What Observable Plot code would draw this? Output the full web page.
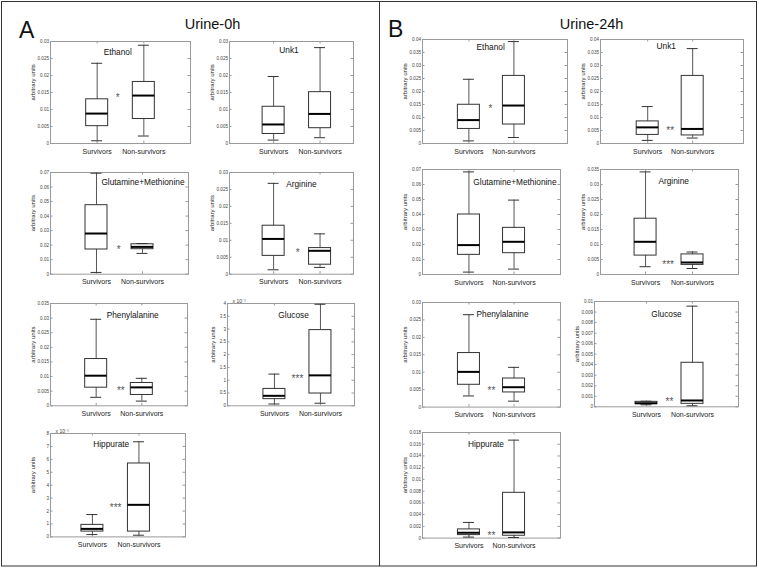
<!DOCTYPE html>
<html><head><meta charset="utf-8">
<script src="https://cdn.jsdelivr.net/npm/d3@7"></script>
<script src="https://cdn.jsdelivr.net/npm/@observablehq/plot@0.6"></script>
<style>
html,body{margin:0;padding:0;background:#fff;}
#fig{position:relative;width:759px;height:568px;overflow:hidden;background:#fff;font-family:"Liberation Sans",Arial,Helvetica,sans-serif;}
#fig svg.panel{position:absolute;}
</style></head><body>
<div id="fig">
<svg id="deco" width="759" height="568" style="position:absolute;left:0;top:0" font-family="Liberation Sans, Arial, sans-serif">
<rect x="1.5" y="1.5" width="755" height="564.5" fill="none" stroke="#333" stroke-width="1"/>
<line x1="379.5" y1="1.5" x2="379.5" y2="566" stroke="#333" stroke-width="1"/>
<text x="19" y="37.5" font-size="23" fill="#111">A</text>
<text x="388" y="36.5" font-size="23" fill="#111">B</text>
<text x="212.5" y="28.5" font-size="14.5" text-anchor="middle" fill="#111">Urine-0h</text>
<text x="591.5" y="28.5" font-size="14.5" text-anchor="middle" fill="#111">Urine-24h</text>
</svg>
</div>
<script>
// categories
const groups = ["Survivors", "Non-survivors"];
const yLabel = "arbitrary units";
const expLabel = "x 10\u207B\u00B3";

// tick values
const ticks030 = [0, 0.005, 0.01, 0.015, 0.02, 0.025, 0.03];
const ticks035 = [0, 0.005, 0.01, 0.015, 0.02, 0.025, 0.03, 0.035];
const ticks040 = [0, 0.005, 0.01, 0.015, 0.02, 0.025, 0.03, 0.035, 0.04];
const ticks070 = [0, 0.01, 0.02, 0.03, 0.04, 0.05, 0.06, 0.07];
const ticksGlc0h = [0, 0.5, 1, 1.5, 2, 2.5, 3, 3.5, 4];
const ticksHip0h = [0, 1, 2, 3, 4, 5, 6, 7, 8];
const ticksGlc24h = [0, 0.001, 0.002, 0.003, 0.004, 0.005, 0.006, 0.007, 0.008, 0.009, 0.01];
const ticksHip24h = [0, 0.002, 0.004, 0.006, 0.008, 0.01, 0.012, 0.014, 0.016, 0.018];

// box stats per group: [lower whisker, Q1, median, Q3, upper whisker]
// Urine-0h
const ethanol0h = [[0.0008, 0.0051, 0.0088, 0.0130, 0.0236], [0.0022, 0.0072, 0.0141, 0.0181, 0.0289]];
const unk1_0h   = [[0.0010, 0.0028, 0.0056, 0.0108, 0.0197], [0.0017, 0.0045, 0.0087, 0.0151, 0.0282]];
const glut0h    = [[0.0012, 0.0170, 0.0280, 0.0475, 0.0695], [0.0143, 0.0172, 0.0188, 0.0206, 0.0211]];
const arg0h     = [[0.0013, 0.0054, 0.0104, 0.0143, 0.0268], [0.0020, 0.0028, 0.0069, 0.0077, 0.0119]];
const phe0h     = [[0.0029, 0.0062, 0.0103, 0.0160, 0.0296], [0.0016, 0.0037, 0.0063, 0.0078, 0.0094]];
const glc0h     = [[0.07, 0.26, 0.39, 0.66, 1.24], [0.10, 0.48, 1.19, 2.96, 3.97]];   // x 10^-3
const hip0h     = [[0.18, 0.41, 0.62, 0.93, 1.73], [0.13, 0.41, 2.48, 5.68, 7.36]];   // x 10^-3
// Urine-24h
const ethanol24h = [[0.0010, 0.0056, 0.0090, 0.0149, 0.0247], [0.0023, 0.0073, 0.0146, 0.0260, 0.0392]];
const unk1_24h   = [[0.0012, 0.0033, 0.0062, 0.0085, 0.0142], [0.0021, 0.0031, 0.0056, 0.0260, 0.0365]];
const glut24h    = [[0.0016, 0.0131, 0.0196, 0.0400, 0.0684], [0.0036, 0.0142, 0.0218, 0.0311, 0.0496]];
const arg24h     = [[0.0026, 0.0063, 0.0109, 0.0186, 0.0342], [0.0020, 0.0032, 0.0040, 0.0067, 0.0075]];
const phe24h     = [[0.0032, 0.0064, 0.0101, 0.0155, 0.0265], [0.0017, 0.0042, 0.0057, 0.0082, 0.0114]];
const glc24h     = [[0.00019, 0.00025, 0.00034, 0.00047, 0.00053], [0.0001, 0.00028, 0.0006, 0.00418, 0.00956]];
const hip24h     = [[0.00017, 0.00051, 0.00091, 0.00148, 0.00267], [0.0001, 0.0004, 0.00097, 0.00772, 0.0167]];

// significance marks: [text, y value]
const sigEthanol0h = ["*", 0.0141];
const sigGlut0h = ["*", 0.0188];
const sigArg0h = ["*", 0.0070];
const sigPhe0h = ["**", 0.0060];
const sigGlc0h = ["***", 1.17];
const sigHip0h = ["***", 2.48];
const sigEthanol24h = ["*", 0.0144];
const sigUnk1_24h = ["**", 0.0059];
const sigArg24h = ["***", 0.0040];
const sigPhe24h = ["**", 0.0055];
const sigGlc24h = ["**", 0.0007];
const sigHip24h = ["**", 0.0009];

// layout (page pixels of each axes frame, x domain)
const panels = [
  {frame:[50,40.7,190,142.7], dom:[0,3], ymax:0.03, ticks:ticks030, data:ethanol0h, title:"Ethanol", tfx:0.48, tfy:0.13, sig:sigEthanol0h, sx:1.44},
  {frame:[229,40.7,353,142.7], dom:[0.05,2.72], ymax:0.03, ticks:ticks030, data:unk1_0h, title:"Unk1", tfx:0.48, tfy:0.11},
  {frame:[50,172.3,188,274], dom:[0,3], ymax:0.07, ticks:ticks070, data:glut0h, title:"Glutamine+Methionine", tfx:0.67, tfy:0.125, sig:sigGlut0h, sx:1.48},
  {frame:[229,172.3,353,274], dom:[0.05,2.72], ymax:0.03, ticks:ticks030, data:arg0h, title:"Arginine", tfx:0.58, tfy:0.14, sig:sigArg0h, sx:1.52},
  {frame:[50,302.7,187,405], dom:[0,3], ymax:0.035, ticks:ticks035, data:phe0h, title:"Phenylalanine", tfx:0.6, tfy:0.14, sig:sigPhe0h, sx:1.54},
  {frame:[227,302.7,354,405], dom:[-0.02,2.74], ymax:4, ticks:ticksGlc0h, data:glc0h, title:"Glucose", tfx:0.52, tfy:0.14, sig:sigGlc0h, sx:1.5, exp:true, ylx:-14},
  {frame:[50,433.3,185,536.7], dom:[0.1,3], ymax:8, ticks:ticksHip0h, data:hip0h, title:"Hippurate", tfx:0.45, tfy:0.13, sig:sigHip0h, sx:1.5, exp:true},
  {frame:[422,39.3,567,143.3], dom:[-0.03,3.19], ymax:0.04, ticks:ticks040, data:ethanol24h, title:"Ethanol", tfx:0.47, tfy:0.1, sig:sigEthanol24h, sx:1.48},
  {frame:[600,39.3,743,143.3], dom:[-0.05,3.13], ymax:0.04, ticks:ticks040, data:unk1_24h, title:"Unk1", tfx:0.46, tfy:0.09, sig:sigUnk1_24h, sx:1.5},
  {frame:[422,169.3,560,274.3], dom:[-0.03,3.03], ymax:0.07, ticks:ticks070, data:glut24h, title:"Glutamine+Methionine", tfx:0.67, tfy:0.15},
  {frame:[600,169.3,738,274.3], dom:[0.04,2.98], ymax:0.035, ticks:ticks035, data:arg24h, title:"Arginine", tfx:0.53, tfy:0.14, sig:sigArg24h, sx:1.48},
  {frame:[422,301.7,560,406.3], dom:[-0.03,3.03], ymax:0.03, ticks:ticks030, data:phe24h, title:"Phenylalanine", tfx:0.58, tfy:0.14, sig:sigPhe24h, sx:1.5},
  {frame:[594,301,738,406.3], dom:[-0.13,3.0], ymax:0.01, ticks:ticksGlc24h, data:glc24h, title:"Glucose", tfx:0.5, tfy:0.15, sig:sigGlc24h, sx:1.5},
  {frame:[422,431.7,560,537.3], dom:[-0.03,3.03], ymax:0.018, ticks:ticksHip24h, data:hip24h, title:"Hippurate", tfx:0.46, tfy:0.14, sig:sigHip24h, sx:1.5}
];

const fmt = v => String(+v.toFixed(4));
const FONT = "Liberation Sans, Arial, Helvetica, sans-serif";
const fig = document.getElementById("fig");
const ml = 55, mr = 6, mt = 14, mb = 16;
const FRAME = "#9a9a9a";

for (const p of panels) {
  const [x0, y0, x1, y1] = p.frame;
  const fw = x1 - x0, fh = y1 - y0;
  const ux = (p.dom[1] - p.dom[0]) / fw, uy = p.ymax / fh;
  const bw = 11 * ux, cw = 5.5 * ux, tl = 2.5;
  const rows = groups.map((g, i) => ({g, x: i + 1, lo: p.data[i][0], q1: p.data[i][1], med: p.data[i][2], q3: p.data[i][3], hi: p.data[i][4]}));
  const marks = [
    Plot.frame({stroke: FRAME}),
    Plot.ruleY(p.ticks, {x1: p.dom[0], x2: p.dom[0] + tl * ux, stroke: FRAME}),
    Plot.ruleY(p.ticks, {x1: p.dom[1] - tl * ux, x2: p.dom[1], stroke: FRAME}),
    Plot.ruleX([1, 2], {y1: 0, y2: tl * uy, stroke: FRAME}),
    Plot.ruleX([1, 2], {y1: p.ymax - tl * uy, y2: p.ymax, stroke: FRAME}),
    Plot.axisY(p.ticks, {anchor: "left", tickSize: 0, tickPadding: 1.5, tickFormat: fmt, fontSize: 4.6, fill: "#444", label: null}),
    Plot.ruleX(rows, {x: "x", y1: "q3", y2: "hi", stroke: "#555"}),
    Plot.ruleX(rows, {x: "x", y1: "lo", y2: "q1", stroke: "#555"}),
    Plot.ruleY(rows, {y: "hi", x1: d => d.x - cw, x2: d => d.x + cw, stroke: "#333"}),
    Plot.ruleY(rows, {y: "lo", x1: d => d.x - cw, x2: d => d.x + cw, stroke: "#333"}),
    Plot.rect(rows, {x1: d => d.x - bw, x2: d => d.x + bw, y1: "q1", y2: "q3", fill: "none", stroke: "#333"}),
    Plot.ruleY(rows, {y: "med", x1: d => d.x - bw, x2: d => d.x + bw, stroke: "#000", strokeWidth: 2}),
    Plot.text(rows, {x: "x", y: 0, text: "g", dy: 8, fontSize: 7, lineAnchor: "middle", fill: "#222"}),
    Plot.text([p.title], {frameAnchor: "top-left", dx: p.tfx * fw, dy: p.tfy * fh, textAnchor: "middle", lineAnchor: "bottom", fontSize: 8.3, fill: "#111"}),
    Plot.text([yLabel], {frameAnchor: "left", rotate: -90, dx: p.ylx ?? -17, dy: 8, fontSize: 6, fill: "#222"})
  ];
  if (p.sig) marks.push(Plot.text([p.sig[0]], {x: p.sx, y: p.sig[1], fontSize: 10, dy: 2.5, fill: "#555"}));
  if (p.exp) marks.push(Plot.text([expLabel], {frameAnchor: "top-left", dx: 5, dy: -0.5, textAnchor: "start", lineAnchor: "bottom", fontSize: 5, fill: "#444"}));
  const svg = Plot.plot({
    width: fw + ml + mr, height: fh + mt + mb,
    marginLeft: ml, marginRight: mr, marginTop: mt, marginBottom: mb,
    x: {domain: p.dom, axis: null},
    y: {domain: [0, p.ymax], axis: null},
    style: {background: "transparent", overflow: "visible", fontFamily: FONT},
    marks
  });
  svg.classList.add("panel");
  svg.style.left = (x0 - ml) + "px";
  svg.style.top = (y0 - mt) + "px";
  svg.style.maxWidth = "none";
  fig.appendChild(svg);
}
</script>
</body></html>
